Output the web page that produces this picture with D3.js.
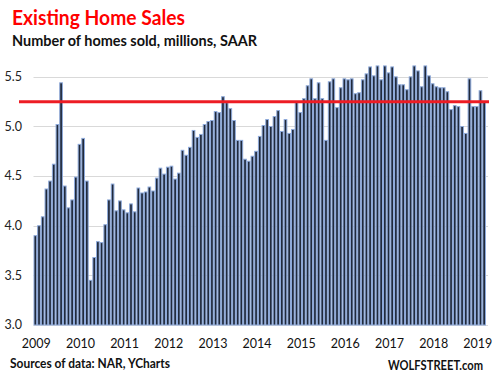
<!DOCTYPE html>
<html>
<head>
<meta charset="utf-8">
<script src="https://cdn.jsdelivr.net/npm/d3@7"></script>
<style>
  body { margin: 0; background: #fff; }
  text { font-family: "Lato", "Open Sans", sans-serif; }
</style>
</head>
<body>
<svg id="chart"></svg>
<script>
// monthly existing home sales, millions SAAR, Jan 2009 .. Mar 2019
const sales2009 = [3.90, 4.00, 4.09, 4.37, 4.45, 4.62, 5.02, 5.44, 4.40, 4.18, 4.26, 4.49];
const sales2010 = [4.82, 4.88, 4.45, 3.45, 3.68, 3.84, 3.83, 4.01, 4.26, 4.42, 4.15, 4.25];
const sales2011 = [4.16, 4.13, 4.22, 4.14, 4.38, 4.33, 4.34, 4.39, 4.35, 4.48, 4.58, 4.52];
const sales2012 = [4.59, 4.60, 4.47, 4.53, 4.76, 4.71, 4.79, 4.96, 4.89, 4.92, 5.02, 5.05];
const sales2013 = [5.06, 5.15, 5.14, 5.30, 5.24, 5.18, 5.06, 4.86, 4.86, 4.67, 4.65, 4.70];
const sales2014 = [4.75, 4.90, 5.01, 5.07, 5.00, 5.10, 5.16, 4.95, 5.07, 4.93, 4.97, 5.25];
const sales2015 = [5.14, 5.28, 5.41, 5.48, 5.28, 5.44, 5.28, 4.86, 5.45, 5.48, 5.19, 5.39];
const sales2016 = [5.48, 5.47, 5.48, 5.33, 5.34, 5.47, 5.53, 5.60, 5.51, 5.61, 5.47, 5.61];
const sales2017 = [5.54, 5.60, 5.50, 5.42, 5.42, 5.37, 5.50, 5.61, 5.56, 5.40, 5.61, 5.51];
const sales2018 = [5.43, 5.40, 5.39, 5.39, 5.35, 5.17, 5.21, 5.20, 5.00, 4.93, 5.48, 5.20];
const sales2019 = [5.20, 5.36, 5.25];

const years = ["2009", "2010", "2011", "2012", "2013", "2014", "2015", "2016", "2017", "2018", "2019"];
const yTicks = [3.0, 3.5, 4.0, 4.5, 5.0, 5.5];
const refLevel = 5.25;

const sales = [].concat(sales2009, sales2010, sales2011, sales2012, sales2013, sales2014,
    sales2015, sales2016, sales2017, sales2018, sales2019);
const data = sales.map((v, i) => ({ i: i, value: v }));

const width = 494, height = 385;
const plot = { left: 33.5, right: 486, top: 57, bottom: 325 };

const svg = d3.select("#chart")
    .attr("width", width)
    .attr("height", height);

const x = d3.scaleBand()
    .domain(data.map(d => d.i))
    .range([plot.left, plot.right])
    .padding(0);

const y = d3.scaleLinear()
    .domain([3.0, 5.7])
    .range([plot.bottom, plot.top]);

// gridlines
svg.append("g")
    .selectAll("line")
    .data(yTicks)
    .enter()
    .append("line")
    .attr("x1", plot.left)
    .attr("x2", plot.right + 2)
    .attr("y1", d => Math.round(y(d)) + 0.5)
    .attr("y2", d => Math.round(y(d)) + 0.5)
    .attr("stroke", "#d9d9d9")
    .attr("stroke-width", 1);

// y labels
svg.append("g")
    .selectAll("text")
    .data(yTicks)
    .enter()
    .append("text")
    .attr("x", 22)
    .attr("y", d => y(d))
    .attr("dy", "0.35em")
    .attr("text-anchor", "end")
    .attr("font-size", "12.5px")
    .attr("fill", "#222")
    .text(d => d.toFixed(1));

// bars
svg.append("g")
    .selectAll("rect")
    .data(data)
    .enter()
    .append("rect")
    .attr("x", d => x(d.i) + 0.5)
    .attr("y", d => y(d.value))
    .attr("width", x.bandwidth() - 1)
    .attr("height", d => y(3.0) - y(d.value))
    .attr("fill", "#212a3b")
    .attr("stroke", "#8eaadb")
    .attr("stroke-width", 1);

// red reference line
svg.append("line")
    .attr("x1", 19)
    .attr("x2", 489)
    .attr("y1", y(refLevel))
    .attr("y2", y(refLevel))
    .attr("stroke", "#ed1c24")
    .attr("stroke-width", 3);

// x labels at each January
svg.append("g")
    .selectAll("text")
    .data(years)
    .enter()
    .append("text")
    .attr("x", (d, k) => x(k * 12) + x.bandwidth() / 2 + 1)
    .attr("y", 348)
    .attr("text-anchor", "middle")
    .attr("font-size", "12.5px")
    .attr("fill", "#111")
    .text(d => d);

// titles
svg.append("text")
    .attr("x", 12)
    .attr("y", 25)
    .attr("font-size", "20px")
    .attr("font-weight", "bold")
    .attr("fill", "#ff0000")
    .attr("textLength", 173)
    .attr("lengthAdjust", "spacingAndGlyphs")
    .text("Existing Home Sales");

svg.append("text")
    .attr("x", 12)
    .attr("y", 46)
    .attr("font-size", "15px")
    .attr("font-weight", "bold")
    .attr("fill", "#111")
    .attr("textLength", 245)
    .attr("lengthAdjust", "spacingAndGlyphs")
    .text("Number of homes sold, millions, SAAR");

// footer
svg.append("text")
    .attr("x", 10)
    .attr("y", 368)
    .attr("font-size", "12.5px")
    .attr("font-weight", "bold")
    .attr("fill", "#111")
    .attr("textLength", 160)
    .attr("lengthAdjust", "spacingAndGlyphs")
    .text("Sources of data: NAR, YCharts");

svg.append("text")
    .attr("x", 388)
    .attr("y", 370)
    .attr("font-size", "12.5px")
    .attr("font-weight", "bold")
    .attr("fill", "#111")
    .attr("textLength", 95)
    .attr("lengthAdjust", "spacingAndGlyphs")
    .text("WOLFSTREET.com");
</script>
</body>
</html>
